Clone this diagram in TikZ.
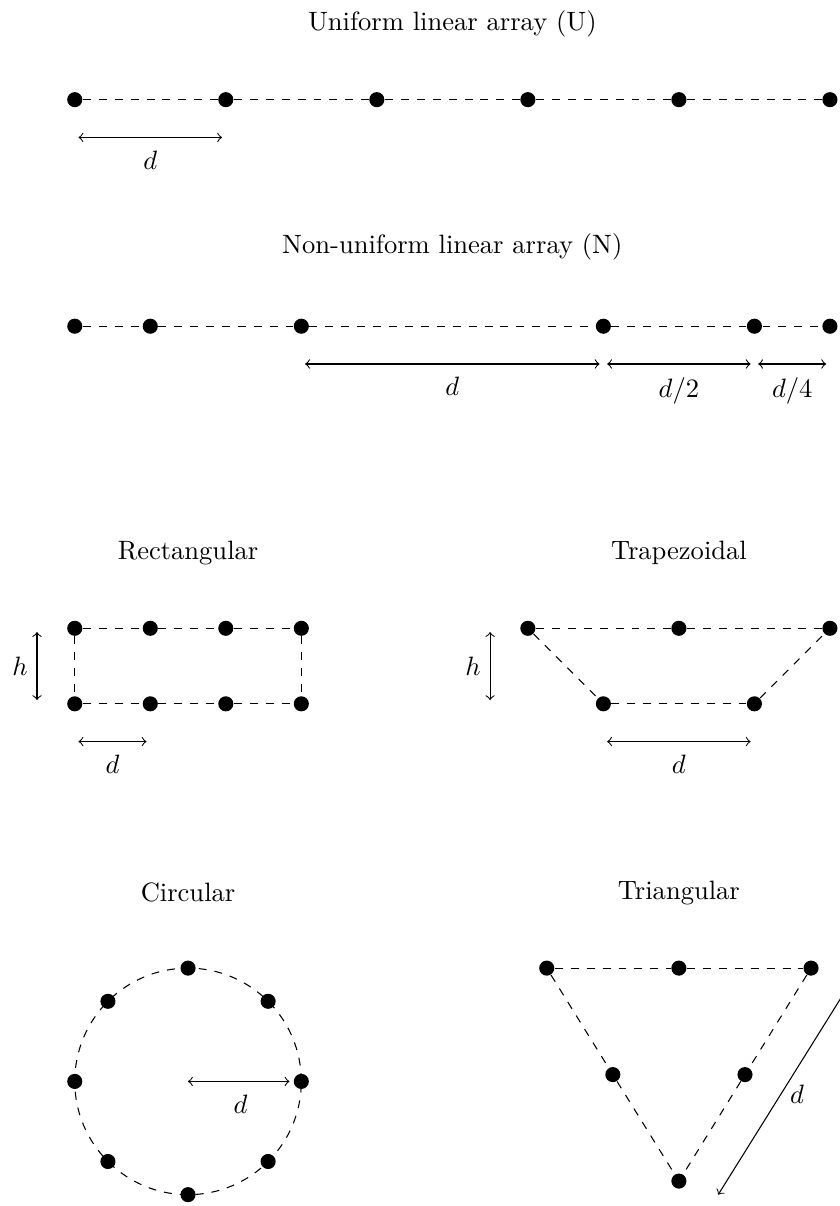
\documentclass[tikz,border=0pt]{standalone}
\usetikzlibrary{calc}
\begin{document}
\begin{tikzpicture}[
  dot/.style={circle, fill=black, inner sep=0pt, minimum size=0.2cm},
  link/.style={dashed},
  dim/.style={<->, shorten <=0.05cm, shorten >=0.05cm},
  lab/.style={below, yshift=-1.5pt},
  hlab/.style={left}
]
\useasboundingbox (-0.99,-14.65) rectangle (10.13,1.32);

% ---------- Uniform linear array ----------
\node (tU) at (5,1) {Uniform linear array (U)};
\foreach \i/\x in {1/0,2/2,3/4,4/6,5/8,6/10}
  \node[dot] (u\i) at (\x,0) {};
\foreach \i/\j in {1/2,2/3,3/4,4/5,5/6}
  \draw[link] (u\i) -- (u\j);
\draw[dim] ($(u1)+(0,-0.5)$) -- node[lab] (dU) {$d$} ($(u2)+(0,-0.5)$);

% ---------- Non-uniform linear array ----------
\node (tN) at (5,-1.95) {Non-uniform linear array (N)};
\foreach \i/\x in {1/0,2/1,3/3,4/7,5/9,6/10}
  \node[dot] (n\i) at (\x,-3) {};
\foreach \i/\j in {1/2,2/3,3/4,4/5,5/6}
  \draw[link] (n\i) -- (n\j);
\draw[dim] ($(n3)+(0,-0.5)$) -- node[lab] (dN1) {$d$} ($(n4)+(0,-0.5)$);
\draw[dim] ($(n4)+(0,-0.5)$) -- node[lab] (dN2) {$d/2$} ($(n5)+(0,-0.5)$);
\draw[dim] ($(n5)+(0,-0.5)$) -- node[lab] (dN3) {$d/4$} ($(n6)+(0,-0.5)$);

% ---------- Rectangular ----------
\node (tR) at (1.5,-6) {Rectangular};
\foreach \i/\x in {1/0,2/1,3/2,4/3} {
  \node[dot] (r\i) at (\x,-7) {};
  \node[dot] (s\i) at (\x,-8) {};
}
\foreach \i/\j in {1/2,2/3,3/4} {
  \draw[link] (r\i) -- (r\j);
  \draw[link] (s\i) -- (s\j);
}
\draw[link] (r1) -- (s1);
\draw[link] (r4) -- (s4);
\draw[dim] ($(r1)+(-0.5,0)$) -- node[hlab] (hR) {$h$} ($(s1)+(-0.5,0)$);
\draw[dim] ($(s1)+(0,-0.5)$) -- node[lab] (dR) {$d$} ($(s2)+(0,-0.5)$);

% ---------- Trapezoidal ----------
\node (tT) at (8,-6) {Trapezoidal};
\node[dot] (p1) at (6,-7) {};
\node[dot] (p2) at (8,-7) {};
\node[dot] (p3) at (10,-7) {};
\node[dot] (q1) at (7,-8) {};
\node[dot] (q2) at (9,-8) {};
\draw[link] (p1) -- (p2);
\draw[link] (p2) -- (p3);
\draw[link] (p1) -- (q1);
\draw[link] (q1) -- (q2);
\draw[link] (q2) -- (p3);
\draw[dim] ($(p1)+(-0.5,0)$) -- node[hlab] (hT) {$h$} ($(p1|-q1)+(-0.5,0)$);
\draw[dim] ($(q1)+(0,-0.5)$) -- node[lab] (dT) {$d$} ($(q2)+(0,-0.5)$);

% ---------- Circular ----------
\node (tC) at (1.5,-10.5) {Circular};
\coordinate (cc) at (1.5,-13);
\draw[link] (cc) circle (1.5cm);
\foreach \a in {0,45,...,315}
  \node[dot] (c\a) at ($(cc)+(\a:1.5)$) {};
\draw[<->, shorten >=0.05cm] (cc) -- node[lab] (dC) {$d$} (c0);

% ---------- Triangular ----------
\node (tG) at (8,-10.5) {Triangular};
\node[dot] (g1) at (6.25,-11.5) {};
\node[dot] (g2) at (8,-11.5) {};
\node[dot] (g3) at (9.75,-11.5) {};
\node[dot] (g6) at (8,-14.32) {};
\node[dot] (g4) at ($(g1)!0.5!(g6)$) {};
\node[dot] (g5) at ($(g3)!0.5!(g6)$) {};
\draw[link] (g1) -- (g2);
\draw[link] (g2) -- (g3);
\draw[link] (g1) -- (g4);
\draw[link] (g4) -- (g6);
\draw[link] (g3) -- (g5);
\draw[link] (g5) -- (g6);
\coordinate (tdA) at (10.28,-11.68);
\coordinate (tdB) at (8.52,-14.50);
\draw[<->] (tdA) -- node[pos=0.53, right] (dG) {$d$} (tdB);
\end{tikzpicture}
\end{document}
